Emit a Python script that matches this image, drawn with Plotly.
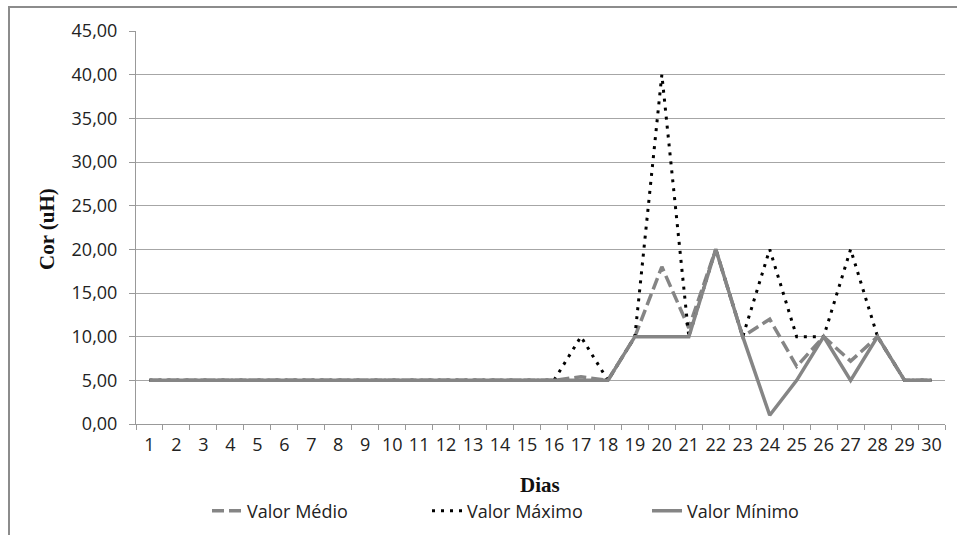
import plotly.graph_objects as go

dias = [str(i) for i in range(1, 31)]
valor_medio = [5]*16 + [5.4, 5, 10, 18, 11, 20, 10, 12, 6.6, 10, 7.2, 10, 5, 5]
valor_maximo = [5]*16 + [10, 5, 10, 40, 10, 20, 10, 20, 10, 10, 20, 10, 5, 5]
valor_minimo = [5]*18 + [10, 10, 10, 20, 10, 1, 5, 10, 5, 10, 5, 5]
y_ticks = [0, 5, 10, 15, 20, 25, 30, 35, 40, 45]
y_ticklabels = [f"{v:.2f}".replace(".", ",") for v in y_ticks]

W, H = 957, 535
L, R, T, B = 136, 12, 31, 111
pw, ph = W - L - R, H - T - B

def px_x(x):
    return (x - L) / pw

def px_y(y):
    return (H - B - y) / ph

fig = go.Figure()
fig.add_trace(go.Scatter(x=dias, y=valor_medio, mode="lines", name="Valor Médio",
                         line=dict(color="#858585", width=3.5, dash="12px,5px")))
fig.add_trace(go.Scatter(x=dias, y=valor_maximo, mode="lines", name="Valor Máximo",
                         line=dict(color="#000000", width=3, dash="3px,6px")))
fig.add_trace(go.Scatter(x=dias, y=valor_minimo, mode="lines", name="Valor Mínimo",
                         line=dict(color="#858585", width=3.5)))

font = dict(family="Open Sans", size=18, color="#222222")

fig.update_layout(
    width=W, height=H,
    margin=dict(l=L, r=R, t=T, b=B, autoexpand=False),
    paper_bgcolor="white", plot_bgcolor="white",
    font=font,
    showlegend=True,
    legend=dict(orientation="h", x=px_x(537), xanchor="center", y=px_y(511), yanchor="middle",
                font=font, traceorder="normal", itemwidth=30,
                entrywidth=175, entrywidthmode="pixels"),
    xaxis=dict(type="category", tickmode="array", tickvals=dias, ticktext=dias,
               tickson="boundaries", ticks="outside", ticklen=5, tickcolor="#999999",
               tickangle=0, automargin=False, ticklabelstandoff=4,
               showgrid=False, showline=True, linecolor="#999999", linewidth=1,
               tickfont=font, range=[-0.5, 29.5]),
    yaxis=dict(range=[0, 45], tickmode="array", tickvals=y_ticks, ticktext=y_ticklabels,
               ticks="outside", ticklen=6, tickcolor="#999999", automargin=False,
               ticklabelstandoff=8,
               showgrid=True, gridcolor="#a6a6a6", gridwidth=1,
               showline=True, linecolor="#999999", linewidth=1,
               zeroline=False, tickfont=font),
)

fig.add_annotation(text="<b>Dias</b>", xref="paper", yref="paper",
                   x=px_x(540), y=px_y(485), xanchor="center", yanchor="middle",
                   showarrow=False,
                   font=dict(family="Liberation Serif", size=21, color="#111111"))
fig.add_annotation(text="<b>Cor (uH)</b>", xref="paper", yref="paper",
                   x=px_x(47), y=px_y(229), xanchor="center", yanchor="middle",
                   showarrow=False, textangle=-90,
                   font=dict(family="Liberation Serif", size=21, color="#111111"))

# outer chart frame (cropped)
fig.add_shape(type="rect", xref="paper", yref="paper",
              x0=px_x(9), y0=px_y(560), x1=px_x(990), y1=px_y(7),
              line=dict(color="#8c8c8c", width=2), layer="below")

fig.write_html("out.html")
